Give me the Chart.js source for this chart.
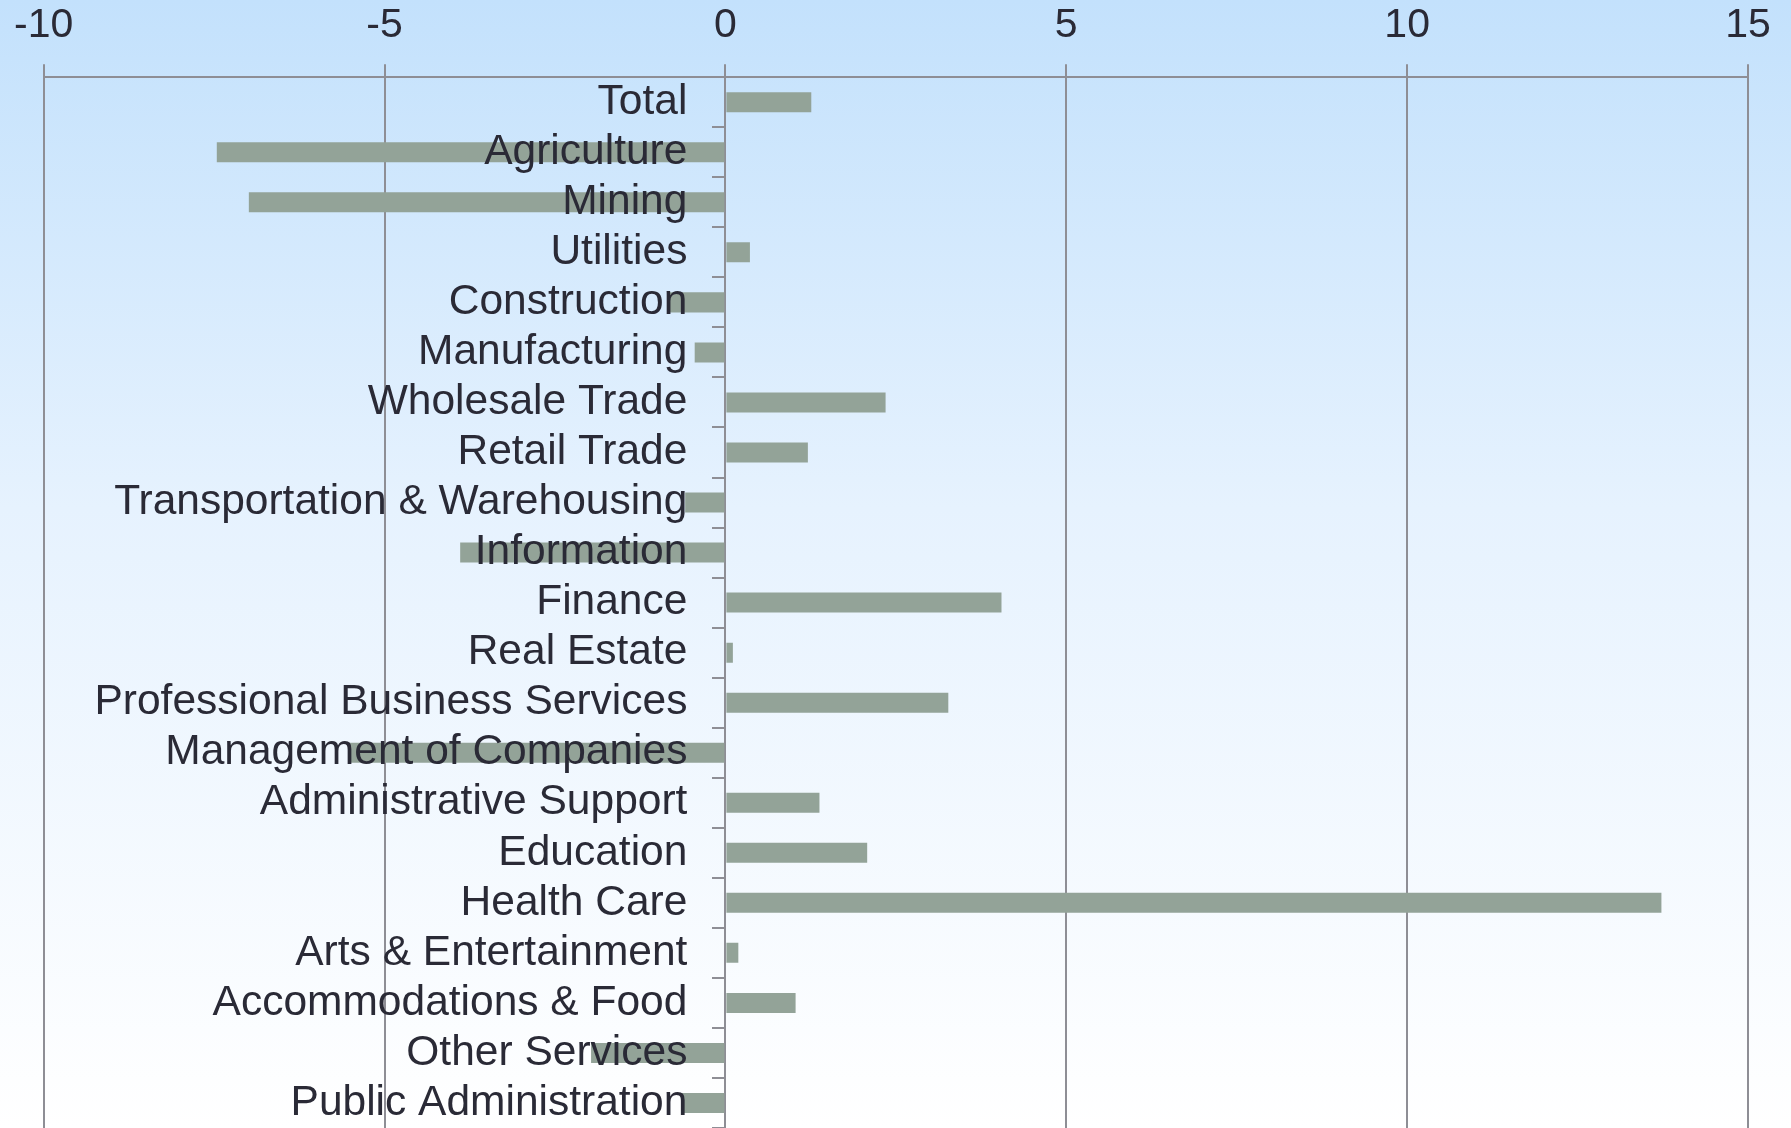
<!DOCTYPE html>
<html>
<head>
<meta charset="utf-8">
<script src="https://cdn.jsdelivr.net/npm/chart.js@4/dist/chart.umd.min.js"></script>
<style>
	html, body { margin: 0; padding: 0; }
	body { background: linear-gradient(to bottom, #c3e1fc 0%, #e6f2fe 45%, #ffffff 100%); }
	#wrap { width: 1791px; height: 1128px; position: relative; }
</style>
</head>
<body>
<div id="wrap"><canvas id="industry-chart"></canvas></div>
<script>
"use strict";
// categories, top to bottom
let industries = [
	"Total", "Agriculture", "Mining", "Utilities", "Construction", "Manufacturing",
	"Wholesale Trade", "Retail Trade", "Transportation & Warehousing", "Information",
	"Finance", "Real Estate", "Professional Business Services", "Management of Companies",
	"Administrative Support", "Education", "Health Care", "Arts & Entertainment",
	"Accommodations & Food", "Other Services", "Public Administration"
];
// change values
let changeValues = [
	1.26, -7.46, -6.99, 0.36, -0.82, -0.45,
	2.35, 1.21, -0.59, -3.89,
	4.05, 0.11, 3.27, -5.52,
	1.38, 2.08, 13.73, 0.19,
	1.03, -1.97, -0.65
];
// x axis range / ticks
let xMin = -10;
let xMax = 15;
let xStep = 5;

let lineGray = "#8e8e95";
let textColor = "#2a2a36";
let fontFamily = "'Liberation Sans', Arial, sans-serif";

// category names sit left of the zero line, on top of the bars
let categoryLabels = {
	id : "categoryLabels",
	afterDatasetsDraw : function(chart) {
		let c = chart.ctx;
		let xScale = chart.scales.x;
		let yScale = chart.scales.y;
		let x = xScale.getPixelForValue(0) - 38;
		c.save();
		c.font = "42.5px " + fontFamily;
		c.fillStyle = textColor;
		c.textAlign = "right";
		c.textBaseline = "middle";
		for (let i = 0; i < industries.length; i++) {
			c.fillText(industries[i], x, yScale.getPixelForValue(i));
		}
		c.restore();
	}
};

let ctx = document.getElementById("industry-chart");
let industryChart = new Chart(ctx, {
	type : "bar",
	data : {
		labels : industries,
		datasets : [
			{
				data : changeValues,
				backgroundColor : "#93a398",
				borderWidth : 0,
				categoryPercentage : 1,
				barPercentage : 0.4
			}
		]
	},
	options : {
		indexAxis : "y",
		responsive : true,
		maintainAspectRatio : false,
		animation : false,
		layout : { padding : { left : 43, right : 43, top : -13, bottom : 0 } },
		plugins : {
			legend : { display : false },
			tooltip : { enabled : false }
		},
		scales : {
			x : {
				position : "top",
				min : xMin,
				max : xMax,
				ticks : { stepSize : xStep, color : textColor, font : { family : fontFamily, size : 41 }, padding : 14, maxRotation : 0 },
				grid : { color : lineGray, lineWidth : 2, tickLength : 13 },
				border : { display : true, color : lineGray, width : 2 }
			},
			y : {
				position : { x : 0 },
				ticks : { display : false },
				grid : { drawOnChartArea : false, color : lineGray, lineWidth : 2, tickLength : 12, offset : true },
				border : { display : true, color : lineGray, width : 2 }
			}
		}
	},
	plugins : [categoryLabels]
});
</script>
</body>
</html>
